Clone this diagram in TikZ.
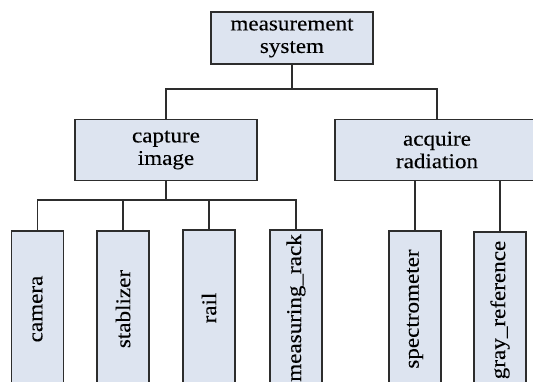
\documentclass[tikz,border=0pt]{standalone}
\usepackage{fontspec}
\setmainfont[FakeStretch=1.1,FakeBold=0.15]{Liberation Serif}
\definecolor{boxfill}{RGB}{221,228,240}
\definecolor{boxline}{RGB}{45,45,45}
\begin{document}
\begin{tikzpicture}[x=1pt,y=-1pt,
  box/.style={draw=boxline,fill=boxfill,line width=1.1pt,inner sep=0pt,align=center,
    text=black,font=\fontsize{21}{22.5}\selectfont},
  leaf/.style={box,rotate=90,minimum width=156pt,minimum height=52pt},
  wire/.style={draw=boxline,line width=1.1pt}]
\clip (0,0) rectangle (533,382);
\fill[white] (0,0) rectangle (533,382);
\node[box,minimum width=162pt,minimum height=52pt] (ms) at (292,38) {measurement\\system};
\node[box,minimum width=182pt,minimum height=61pt] (cap) at (166,150) {capture\\image};
\node[box,minimum width=204pt,minimum height=61pt] (acq) at (437,150) {acquire\\radiation};
\node[leaf] (cam) at (37.5,309) {camera};
\node[leaf] (stab) at (123,309) {stablizer};
\node[leaf] (rail) at (209,308) {rail};
\node[leaf] (rack) at (296,308) {measuring\_rack};
\node[leaf] (spec) at (415,309) {spectrometer};
\node[leaf] (gray) at (500,310) {gray\_reference};
\coordinate (bus1) at (292,89);
\coordinate (bus2) at (166,200);
\draw[wire] (ms.south) -- (bus1);
\draw[wire] (cap.north) |- (bus1) -| (acq.north);
\draw[wire] (cap.south) -- (bus2);
\draw[wire] (cam.east) |- (bus2) -| (rack.east);
\draw[wire] (stab.east) -- (stab.east |- bus2);
\draw[wire] (rail.east) -- (rail.east |- bus2);
\draw[wire] (spec.east) -- (spec.east |- acq.south);
\draw[wire] (gray.east) -- (gray.east |- acq.south);
\end{tikzpicture}
\end{document}
